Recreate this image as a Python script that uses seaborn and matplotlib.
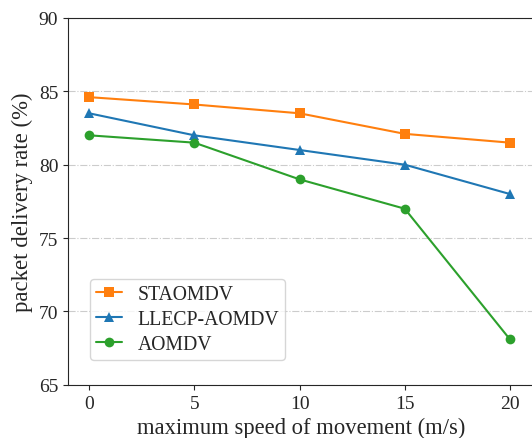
import matplotlib
matplotlib.use("Agg")
import matplotlib.pyplot as plt
import seaborn as sns
import pandas as pd

speed = [0, 5, 10, 15, 20]
staomdv = [84.6, 84.1, 83.5, 82.1, 81.5]
llecp_aomdv = [83.5, 82.0, 81.0, 80.0, 78.0]
aomdv = [82.0, 81.5, 79.0, 77.0, 68.1]

series = ["STAOMDV", "LLECP-AOMDV", "AOMDV"]
colors = ["#ff7f0e", "#1f77b4", "#2ca02c"]
markers = ["s", "^", "o"]

df = pd.DataFrame({
    "speed": speed * 3,
    "rate": staomdv + llecp_aomdv + aomdv,
    "protocol": [s for s in series for _ in speed],
})

sns.set_style("ticks")
plt.rcParams["font.family"] = ["Liberation Serif", "DejaVu Serif"]

fig = plt.figure(figsize=(5.32, 4.39), dpi=100)
ax = fig.add_axes([0.128, 0.121, 0.878, 0.836])

for name, c, m in zip(series, colors, markers):
    sub = df[df["protocol"] == name]
    sns.lineplot(data=sub, x="speed", y="rate", color=c, marker=m,
                 markersize=7, markeredgewidth=0, linewidth=1.5,
                 label=name, ax=ax)

ax.set_xlim(-1, 21.2)
ax.set_ylim(65, 90)
ax.set_xticks(speed)
ax.set_yticks([65, 70, 75, 80, 85, 90])
ax.yaxis.grid(True, linestyle="-.", color="#cccccc", linewidth=0.8)
ax.tick_params(labelsize=14)
ax.set_xlabel("maximum speed of movement (m/s)", fontsize=16.3)
ax.set_ylabel("packet delivery rate (%)", fontsize=16.4)
ax.legend(loc="lower left", bbox_to_anchor=(0.047, 0.068), borderaxespad=0,
          fontsize=14.2, frameon=True, fancybox=True, handlelength=1.3,
          labelspacing=0.3, borderpad=0.3)

fig.savefig("out.png", dpi=100)
